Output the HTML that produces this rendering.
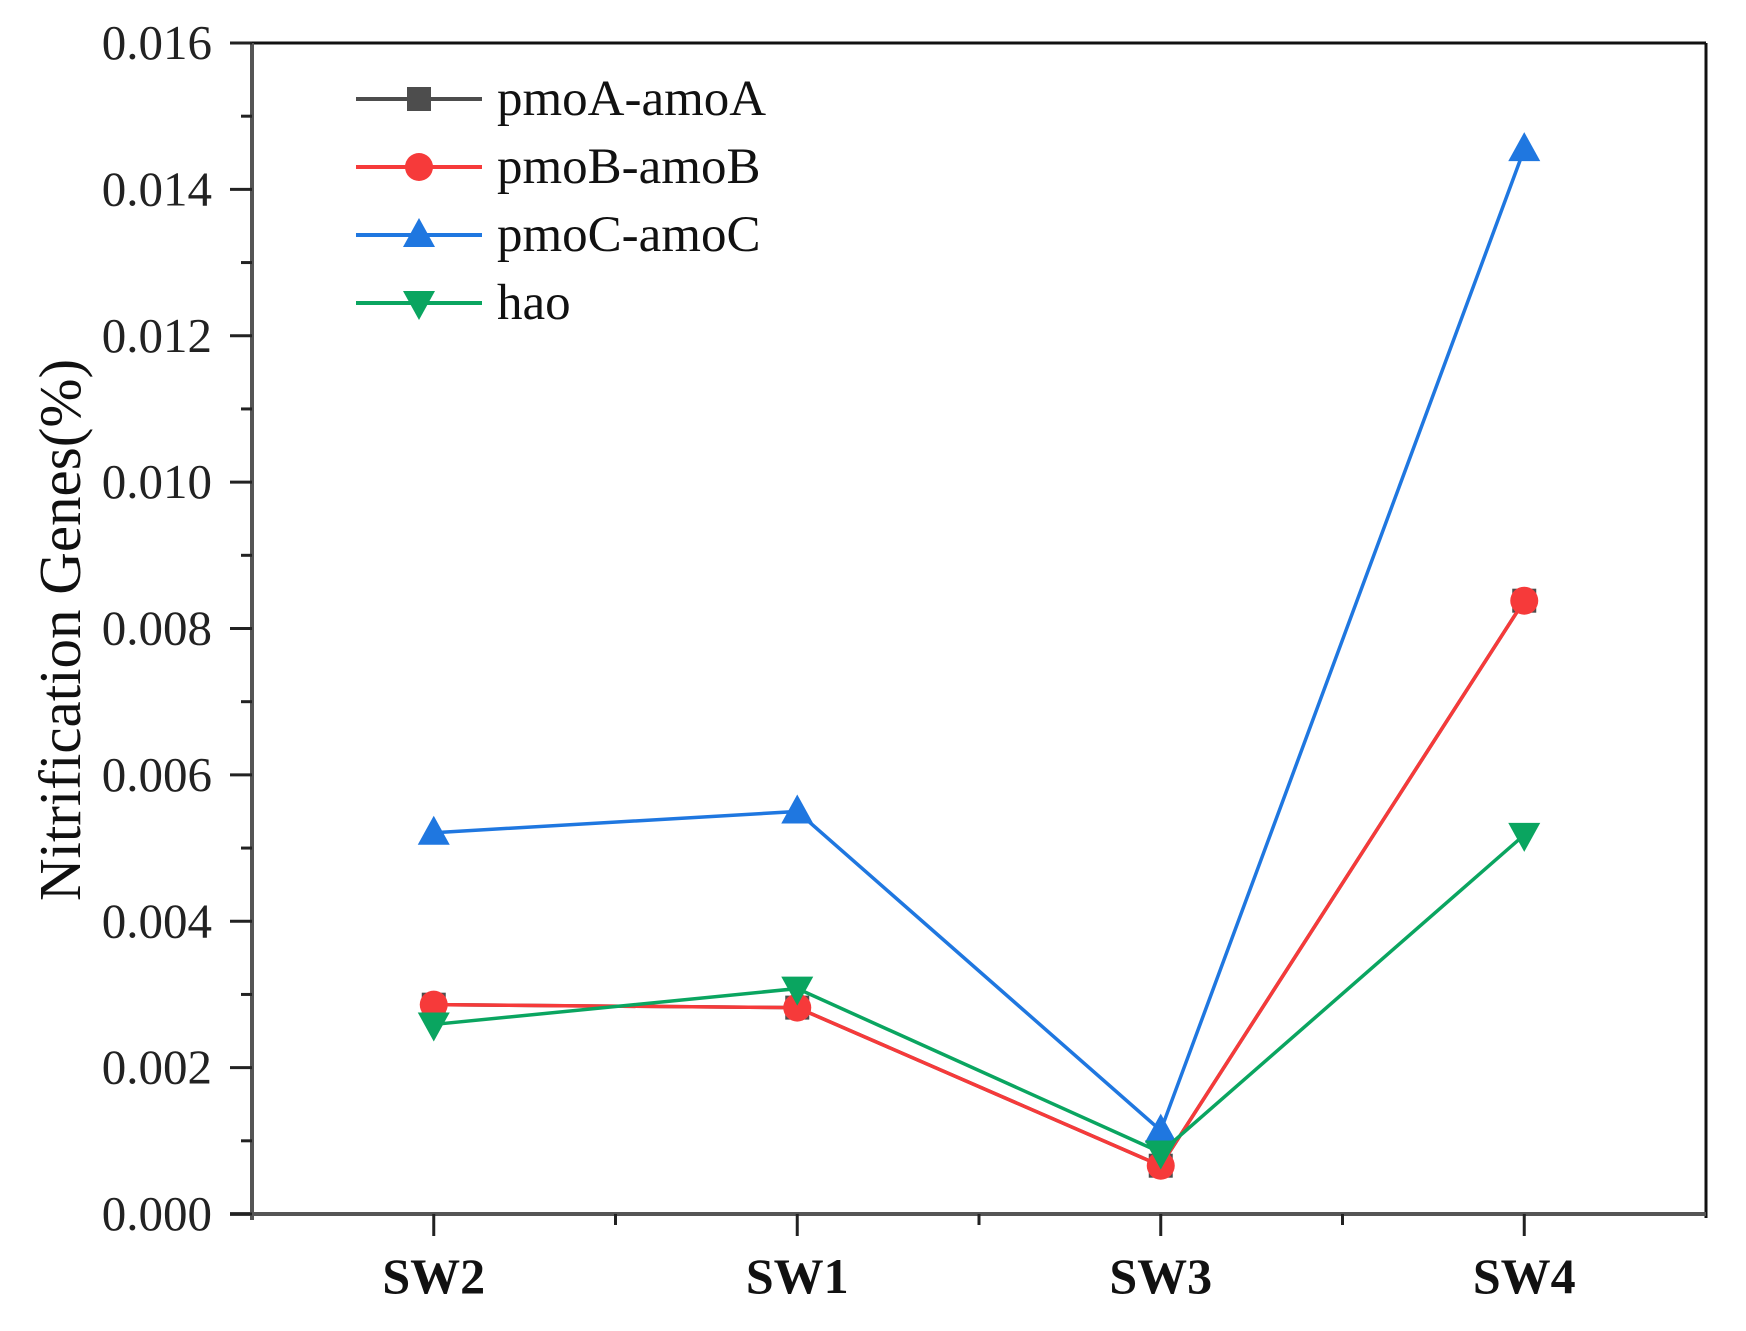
<!DOCTYPE html>
<html><head><meta charset="utf-8"><style>
body{margin:0;background:#fff}
svg text{font-family:"Liberation Serif",serif}
</style></head><body>
<svg id="chart" width="1746" height="1326" xmlns="http://www.w3.org/2000/svg"></svg>
<script>
const categories = ["SW2","SW1","SW3","SW4"];
const pmoA = [0.00286,0.00282,0.00066,0.00838];
const pmoB = [0.00286,0.00282,0.00066,0.00838];
const pmoC = [0.00521,0.0055,0.00114,0.01455];
const hao = [0.00259,0.00308,0.00084,0.00518];
const yTicks = ["0.000","0.002","0.004","0.006","0.008","0.010","0.012","0.014","0.016"];
const seriesNames = ["pmoA-amoA","pmoB-amoB","pmoC-amoC","hao"];

const L=252,R=1706,T=43,B=1214,YMAX=0.016;
const NS="http://www.w3.org/2000/svg";
const svg=document.getElementById('chart');
function xs(i){return L+(i+0.5)/categories.length*(R-L);}
function ys(v){return B-v/YMAX*(B-T);}
function el(tag,attrs,parent){const e=document.createElementNS(NS,tag);for(const k in attrs)e.setAttribute(k,attrs[k]);(parent||svg).appendChild(e);return e;}

let f=el('line',{x1:L,y1:T,x2:R,y2:T,stroke:'#111','stroke-width':3});


f=el('line',{x1:R,y1:T,x2:R,y2:B+4,stroke:'#111','stroke-width':3});


f=el('line',{x1:L,y1:T,x2:L,y2:B+6,stroke:'#555','stroke-width':4});


f=el('line',{x1:L-22,y1:B,x2:R,y2:B,stroke:'#555','stroke-width':4});



for(let k=0;k<=16;k++){
  const v=k*0.001,y=ys(v),major=k%2===0;
  const t=el('line',{x1:L-(major?22:11),y1:y,x2:L,y2:y,stroke:'#222','stroke-width':3});
  
  
  if(major){
    const tx=el('text',{x:212,y:y+16,'text-anchor':'end','font-size':49,fill:'#222'});
    tx.textContent=yTicks[k/2];
    
    
  }
}
for(let i=0;i<categories.length;i++){
  const x=xs(i);
  const t=el('line',{x1:x,y1:B,x2:x,y2:B+22,stroke:'#222','stroke-width':3});
  
  
  const tx=el('text',{x:x,y:1293,'text-anchor':'middle','font-size':50,'font-weight':'bold',fill:'#111'});
  tx.textContent=categories[i];
  
  
}
for(let i=1;i<categories.length;i++){
  const x=L+i/categories.length*(R-L);
  const t=el('line',{x1:x,y1:B,x2:x,y2:B+11,stroke:'#222','stroke-width':3});
  
  
}
const yt=el('text',{x:0,y:0,'text-anchor':'middle','font-size':59,fill:'#111',transform:'translate(80,630) rotate(-90)'});
yt.textContent='Nitrification Genes(%)';



function marker(type,x,y,color,parent){
  let m;
  if(type==='square') m=el('rect',{x:x-12,y:y-12,width:24,height:24,fill:color},parent);
  else if(type==='circle') m=el('circle',{cx:x,cy:y,r:14,fill:color},parent);
  else if(type==='up') m=el('polygon',{points:`${x},${y-17} ${x-16},${y+12} ${x+16},${y+12}`,fill:color},parent);
  else m=el('polygon',{points:`${x},${y+17} ${x-16},${y-12} ${x+16},${y-12}`,fill:color},parent);
  return m;
}
const series=[
  {vals:pmoA,color:'#4d4d4d',m:'square',name:'pmoA-amoA'},
  {vals:pmoB,color:'#f63a3a',m:'circle',name:'pmoB-amoB'},
  {vals:pmoC,color:'#1f77e0',m:'up',name:'pmoC-amoC'},
  {vals:hao,color:'#0aa560',m:'down',name:'hao'}
];
series.forEach((s,si)=>{
  const g=el('g',{});
  
  
  const pts=s.vals.map((v,i)=>xs(i)+','+ys(v)).join(' ');
  const pl=el('polyline',{points:pts,fill:'none',stroke:s.color,'stroke-width':3.5},g);
  
  
  s.vals.forEach((v,i)=>{
    const m=marker(s.m,xs(i),ys(v),s.color,g);
    
    
  });
  const ly=99+si*68;
  const lg=el('g',{});
  
  
  el('line',{x1:356,y1:ly,x2:482,y2:ly,stroke:s.color,'stroke-width':4},lg);
  marker(s.m,419,ly,s.color,lg);
  const t=el('text',{x:497,y:ly+16,'font-size':51,fill:'#111'},lg);
  t.textContent=seriesNames[si];
});
</script>
</body></html>
